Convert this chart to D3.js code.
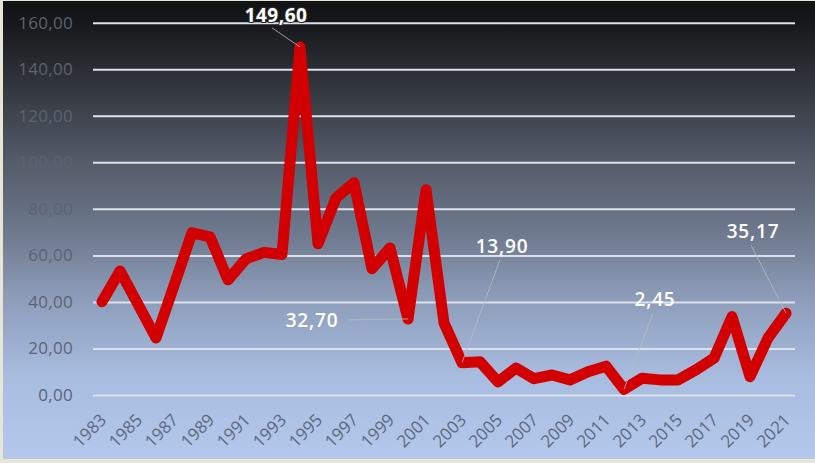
<!DOCTYPE html>
<html>
<head>
<meta charset="utf-8">
<script src="https://cdn.jsdelivr.net/npm/d3@7"></script>
<style>
  html, body { margin: 0; padding: 0; background: #e9e8dc; }
  svg { display: block; }
</style>
</head>
<body>
<svg id="chart" width="815" height="463"></svg>
<script>
const years = d3.range(1983, 2022).map(String);
const values = [
  40.1, 53.3, 39.0, 24.5, 47.0, 69.7, 68.0, 49.5, 58.5, 61.3,
  60.4, 149.6, 65.0, 84.7, 91.2, 54.3, 63.2, 32.7, 88.2, 31.0,
  13.9, 14.3, 5.6, 11.6, 7.0, 8.6, 6.5, 10.0, 12.4, 2.45,
  7.2, 6.5, 6.5, 10.8, 15.8, 33.7, 7.9, 24.5, 35.17
];
const yTicks = [0, 20, 40, 60, 80, 100, 120, 140, 160];
const xTickYears = years.filter((d, i) => i % 2 === 0);
const annotations = [
  { year: "1994", text: "149,60", dx: -24, dy: -32, bold: true },
  { year: "2000", text: "32,70", dx: -96, dy: 1, bold: false },
  { year: "2003", text: "13,90", dx: 40, dy: -117, bold: false },
  { year: "2012", text: "2,45", dx: 31, dy: -90, bold: false },
  { year: "2021", text: "35,17", dx: -33, dy: -82, bold: false }
];

const W = 815, H = 463;
const svg = d3.select("#chart");
const fmt = v => d3.format(".2f")(v).replace(".", ",");

// background
const defs = svg.append("defs");
const grad = defs.append("linearGradient").attr("id", "bg")
  .attr("x1", 0).attr("y1", 0).attr("x2", 0).attr("y2", 1);
[[0, "#111213"], [0.05, "#17181b"], [0.15, "#2b2e34"], [0.35, "#545b69"],
 [0.52, "#717c91"], [0.65, "#8d9dba"], [0.82, "#a8bcdf"], [1, "#b4c8eb"]]
  .forEach(([o, c]) => grad.append("stop").attr("offset", o).attr("stop-color", c));
svg.append("rect").attr("x", 0).attr("y", 0).attr("width", W).attr("height", H).attr("fill", "#e6e5d6");
svg.append("rect").attr("x", 3).attr("y", 1).attr("width", W - 3).attr("height", H - 5).attr("fill", "url(#bg)");

const x = d3.scalePoint().domain(years).range([93, 795]).padding(0.5);
const y = d3.scaleLinear().domain([0, 160]).range([395, 22.7]);

// gridlines + y labels
const yAxis = d3.axisLeft(y).tickValues(yTicks).tickSize(-(795 - 93)).tickPadding(20).tickFormat(fmt);
const gy = svg.append("g").attr("transform", "translate(93,0)").call(yAxis);
gy.select(".domain").remove();
gy.selectAll(".tick line").attr("stroke", "#dde1ea").attr("stroke-width", 2);
gy.selectAll(".tick text")
  .attr("fill", "#5c6372")
  .attr("font-family", "'Open Sans', sans-serif")
  .attr("font-size", 17)
  .attr("letter-spacing", 0.3);

// x labels
const xAxis = d3.axisBottom(x).tickValues(xTickYears).tickSize(0).tickPadding(0);
const gx = svg.append("g").attr("transform", "translate(0,395)").call(xAxis);
gx.select(".domain").remove();
gx.selectAll(".tick text")
  .attr("fill", "#5c6880")
  .attr("font-family", "'Open Sans', sans-serif")
  .attr("font-size", 17)
  .attr("text-anchor", "end")
  .attr("dy", null)
  .attr("y", 0)
  .attr("transform", "translate(5,26) rotate(-45)");

// line
const data = years.map((yr, i) => ({ yr, v: values[i] }));
const line = d3.line().x(d => x(d.yr)).y(d => y(d.v));
svg.append("path").datum(data)
  .attr("d", line)
  .attr("fill", "none")
  .attr("stroke", "#d20000")
  .attr("stroke-width", 11)
  .attr("stroke-linejoin", "round")
  .attr("stroke-linecap", "round");

// annotations
const ann = svg.append("g");
annotations.forEach(a => {
  const i = years.indexOf(a.year);
  const px = x(a.year), py = y(values[i]);
  const lx = px + a.dx, ly = py + a.dy;
  let ex, ey;
  if (a.year === "1994") { ex = lx - 4; ey = ly + 13; }
  else if (a.year === "2000") { ex = lx + 36; ey = ly; }
  else { ex = lx - 2; ey = ly + 14; }
  ann.append("line")
    .attr("x1", ex).attr("y1", ey).attr("x2", px).attr("y2", py)
    .attr("stroke", "#b8bcc4").attr("stroke-width", 1).attr("opacity", 0.8);
  ann.append("text")
    .attr("x", lx).attr("y", ly)
    .attr("text-anchor", "middle")
    .attr("dominant-baseline", "central")
    .attr("font-family", "'Open Sans', sans-serif")
    .attr("font-size", 19)
    .attr("letter-spacing", a.bold ? 0.5 : 0.8)
    .attr("font-weight", a.bold ? 700 : 600)
    .attr("fill", "#ffffff")
    .attr("stroke", a.bold ? "#2a2a2a" : "none")
    .attr("stroke-width", a.bold ? 2 : 0)
    .attr("paint-order", "stroke")
    .text(a.text);
});
</script>
</body>
</html>
